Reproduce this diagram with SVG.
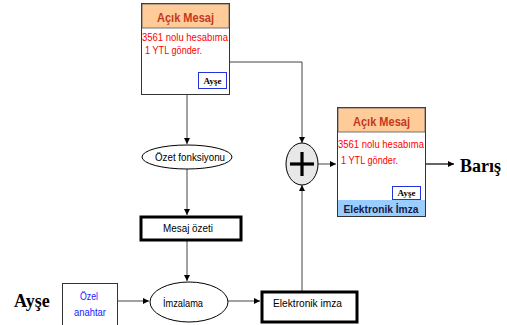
<svg xmlns="http://www.w3.org/2000/svg" width="507" height="325" viewBox="0 0 507 325">
<defs>
<style>
.ln{stroke:#444;stroke-width:1;fill:none}
.t{font-family:"Liberation Sans",Arial,sans-serif;font-size:11px;fill:#000}
.red{font-family:"Liberation Sans",Arial,sans-serif;font-size:11px;fill:#ff0000}
.hdr{font-family:"Liberation Sans",Arial,sans-serif;font-size:12.5px;font-weight:bold;fill:#c4381e}
.sig{font-family:"Liberation Serif","Times New Roman",serif;font-size:9px;font-weight:bold;fill:#000}
.big{font-family:"Liberation Serif","Times New Roman",serif;font-size:18px;font-weight:bold;fill:#000}
.blu{font-family:"Liberation Sans",Arial,sans-serif;font-size:11px;fill:#1a1aff}
</style>
<marker id="ah" viewBox="0 0 8 8" refX="8" refY="4" markerWidth="6" markerHeight="6" orient="auto" markerUnits="userSpaceOnUse">
<path d="M0,0 L8,4 L0,8 z" fill="#000"/>
</marker>
</defs>
<rect width="507" height="325" fill="#fff"/>
<g id="connectors">
<line class="ln" x1="187" y1="94" x2="187" y2="144" marker-end="url(#ah)"/>
<line class="ln" x1="187" y1="169" x2="187" y2="215" marker-end="url(#ah)"/>
<line class="ln" x1="187" y1="241" x2="187" y2="281" marker-end="url(#ah)"/>
<polyline class="ln" points="229,62 302,62 302,143" marker-end="url(#ah)"/>
<line class="ln" x1="318" y1="164" x2="336" y2="164" marker-end="url(#ah)"/>
<line class="ln" x1="117" y1="301" x2="149" y2="301" marker-end="url(#ah)"/>
<line class="ln" x1="228" y1="301" x2="260" y2="301" marker-end="url(#ah)"/>
<line class="ln" x1="302" y1="292" x2="302" y2="185" marker-end="url(#ah)"/>
<line x1="426" y1="164" x2="454" y2="164" stroke="#000" stroke-width="1.2" marker-end="url(#ah)"/>
</g>
<g id="acik-mesaj-1">
<rect x="141.5" y="3.5" width="88" height="91" fill="#fff" stroke="#333"/>
<rect x="142" y="4" width="87" height="24" fill="#ffcc99" stroke="#555" stroke-width="0.8"/>
<text class="hdr" x="185.5" y="22" text-anchor="middle" textLength="57" lengthAdjust="spacingAndGlyphs">Açık Mesaj</text>
<text class="red" x="142" y="41" textLength="86" lengthAdjust="spacingAndGlyphs">3561 nolu hesabıma</text>
<text class="red" x="145" y="54" textLength="57" lengthAdjust="spacingAndGlyphs">1 YTL gönder.</text>
<rect x="198.5" y="72.5" width="28" height="16" fill="#fff" stroke="#2233dd"/>
<text class="sig" x="212.5" y="84" text-anchor="middle">Ayşe</text>
</g>
<g id="ozet-fonksiyonu">
<ellipse cx="187" cy="157" rx="45" ry="12" fill="#fff" stroke="#000"/>
<text class="t" x="190" y="161" text-anchor="middle" textLength="70" lengthAdjust="spacingAndGlyphs">Özet fonksiyonu</text>
</g>
<g id="mesaj-ozeti">
<rect x="141" y="217" width="100" height="23" fill="#fff" stroke="#000" stroke-width="3"/>
<text class="t" x="188" y="232" text-anchor="middle" textLength="50" lengthAdjust="spacingAndGlyphs">Mesaj özeti</text>
</g>
<g id="arti">
<ellipse cx="302" cy="164" rx="16" ry="21" fill="#e8e8e8" stroke="#000"/>
<line x1="302" y1="152" x2="302" y2="176" stroke="#000" stroke-width="3.2"/>
<line x1="290" y1="164" x2="314" y2="164" stroke="#000" stroke-width="3.2"/>
</g>
<g id="acik-mesaj-2">
<rect x="337.5" y="107.5" width="88" height="109" fill="#fff" stroke="#333"/>
<rect x="338" y="108" width="87" height="24" fill="#ffcc99" stroke="#555" stroke-width="0.8"/>
<text class="hdr" x="381.5" y="126" text-anchor="middle" textLength="57" lengthAdjust="spacingAndGlyphs">Açık Mesaj</text>
<text class="red" x="338" y="148" textLength="86" lengthAdjust="spacingAndGlyphs">3561 nolu hesabıma</text>
<text class="red" x="341" y="164" textLength="57" lengthAdjust="spacingAndGlyphs">1 YTL gönder.</text>
<rect x="392.5" y="186.5" width="28" height="13" fill="#fff" stroke="#2233dd"/>
<text class="sig" x="406.5" y="196" text-anchor="middle">Ayşe</text>
<rect x="338" y="200" width="87" height="16" fill="#99ccff"/>
<text x="381" y="213" text-anchor="middle" font-family="Liberation Sans,Arial,sans-serif" font-size="11" font-weight="bold" fill="#1a1a40" textLength="75" lengthAdjust="spacingAndGlyphs">Elektronik İmza</text>
</g>
<g id="baris">
<text class="big" x="460" y="172">Barış</text>
</g>
<g id="ayse">
<text class="big" x="14" y="307">Ayşe</text>
</g>
<g id="ozel-anahtar">
<rect x="62.5" y="283.5" width="55" height="44" fill="#fff" stroke="#333"/>
<text class="blu" x="89" y="300" text-anchor="middle" textLength="18" lengthAdjust="spacingAndGlyphs">Özel</text>
<text class="blu" x="90" y="316" text-anchor="middle" textLength="32" lengthAdjust="spacingAndGlyphs">anahtar</text>
</g>
<g id="imzalama">
<ellipse cx="189" cy="302" rx="39" ry="20" fill="#fff" stroke="#000"/>
<text class="t" x="183" y="307" text-anchor="middle" textLength="40" lengthAdjust="spacingAndGlyphs">İmzalama</text>
</g>
<g id="elektronik-imza">
<rect x="262" y="292" width="95" height="30" fill="#fff" stroke="#000" stroke-width="3"/>
<text class="t" x="307.5" y="307" text-anchor="middle" textLength="69" lengthAdjust="spacingAndGlyphs">Elektronik imza</text>
</g>
</svg>
